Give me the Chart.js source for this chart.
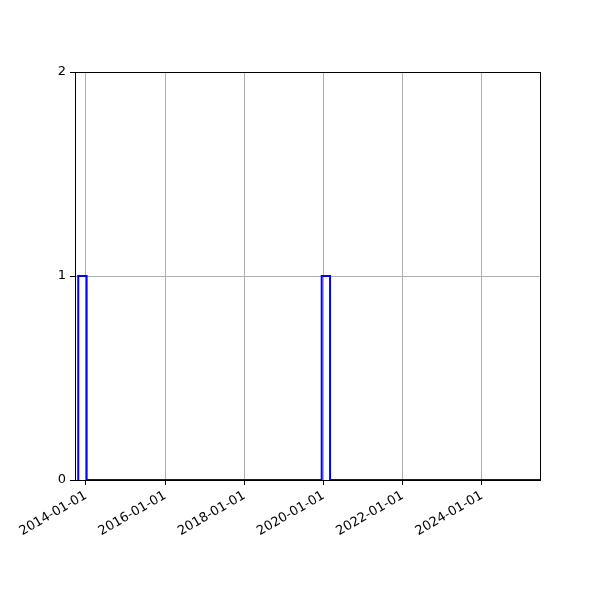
<!DOCTYPE html>
<html>
<head>
<meta charset="utf-8">
<script src="https://cdn.jsdelivr.net/npm/chart.js@4/dist/chart.umd.min.js"></script>
<style>
  html, body { margin: 0; padding: 0; background: #fff; }
  #wrap { width: 600px; height: 600px; }
</style>
</head>
<body>
<div id="wrap"><canvas id="grafico"></canvas></div>
<script>
// Bordas dos intervalos do histograma (datas) e contagem por intervalo
const binEdges = ["2013-10-22", "2014-01-07", "2019-12-15", "2020-03-01", "2025-06-19"];
const binCounts = [1, 0, 1, 0];
// Ticks do eixo x e do eixo y
const xTickDates = ["2014-01-01", "2016-01-01", "2018-01-01", "2020-01-01", "2022-01-01", "2024-01-01"];
const yTicks = [0, 1, 2];
// Limites do eixo x
const xMin = "2013-09-22";
const xMax = "2025-06-19";

function toMs(s) {
  const p = s.split("-").map(Number);
  return Date.UTC(p[0], p[1] - 1, p[2]);
}
function fmt(ms) {
  const d = new Date(ms);
  const mm = String(d.getUTCMonth() + 1).padStart(2, "0");
  const dd = String(d.getUTCDate()).padStart(2, "0");
  return d.getUTCFullYear() + "-" + mm + "-" + dd;
}

// Contorno em degraus (histtype step)
const pontos = [{ x: toMs(binEdges[0]), y: 0 }];
binCounts.forEach((c, i) => {
  pontos.push({ x: toMs(binEdges[i]), y: c });
  pontos.push({ x: toMs(binEdges[i + 1]), y: c });
});
pontos.push({ x: toMs(binEdges[binEdges.length - 1]), y: 0 });

// Moldura completa, como no matplotlib
const moldura = {
  id: "moldura",
  afterDatasetsDraw(chart) {
    const a = chart.chartArea, ctx = chart.ctx;
    ctx.save();
    ctx.strokeStyle = "#000";
    ctx.lineWidth = 1;
    ctx.strokeRect(Math.round(a.left) + 0.5, Math.round(a.top) + 0.5,
      Math.round(a.right - a.left), Math.round(a.bottom - a.top));
    ctx.restore();
  }
};

const fonte = { family: "'DejaVu Sans', sans-serif", size: 13 };

new Chart(document.getElementById("grafico"), {
  type: "line",
  data: {
    datasets: [{
      data: pontos,
      borderColor: "#0000ff",
      borderWidth: 2,
      pointRadius: 0,
      fill: false,
      tension: 0
    }]
  },
  options: {
    responsive: true,
    maintainAspectRatio: false,
    animation: false,
    layout: { padding: { top: 72, right: 60, left: 0, bottom: 0 } },
    plugins: { legend: { display: false }, tooltip: { enabled: false } },
    scales: {
      x: {
        type: "linear",
        min: toMs(xMin),
        max: toMs(xMax),
        afterBuildTicks: (ax) => { ax.ticks = xTickDates.map(s => ({ value: toMs(s) })); },
        afterFit: (ax) => { ax.height = 120; },
        border: { display: false },
        grid: { color: "#b0b0b0", lineWidth: 1, tickColor: "#000", tickLength: 5 },
        ticks: {
          color: "#000", font: fonte, padding: 3,
          maxRotation: 30, minRotation: 30, autoSkip: false,
          callback: (v) => fmt(v)
        }
      },
      y: {
        min: 0,
        max: 2,
        afterBuildTicks: (ax) => { ax.ticks = yTicks.map(v => ({ value: v })); },
        afterFit: (ax) => { ax.width = 75; },
        border: { display: false },
        grid: { color: "#b0b0b0", lineWidth: 1, tickColor: "#000", tickLength: 5 },
        ticks: { color: "#000", font: fonte, padding: 4, callback: (v) => String(v) }
      }
    }
  },
  plugins: [moldura]
});
</script>
</body>
</html>
